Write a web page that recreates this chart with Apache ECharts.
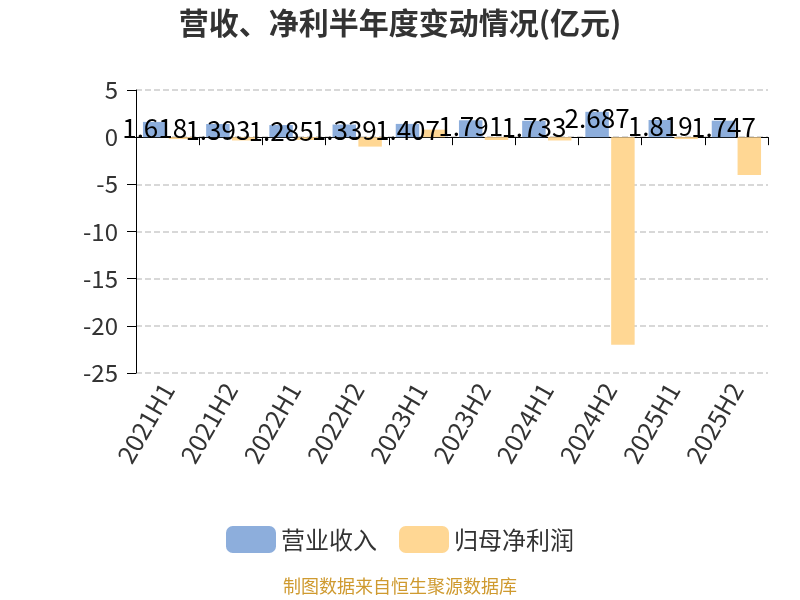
<!DOCTYPE html>
<html><head><meta charset="utf-8">
<script src="https://cdn.jsdelivr.net/npm/echarts@6/dist/echarts.min.js"></script>
<style>html,body{margin:0;padding:0;background:#fff}#c{width:800px;height:600px}</style>
</head><body><div id="c"></div>
<script>
const categories = ['2021H1','2021H2','2022H1','2022H2','2023H1','2023H2','2024H1','2024H2','2025H1','2025H2'];
const revenue = [1.618,1.393,1.285,1.339,1.407,1.791,1.733,2.687,1.819,1.747];
const netProfit = [-0.2,-0.35,-0.3,-1.0,0.8,-0.3,-0.35,-22.0,-0.2,-4.0];
const yTicks = {min:-25, max:5, interval:5};
const font = '"Noto Sans CJK SC", "Noto Sans", sans-serif';
const chart = echarts.init(document.getElementById('c'));
chart.setOption({
  animation:false,
  textStyle:{fontFamily:font},
  title:{text:'营收、净利半年度变动情况(亿元)', left:'center', top:3,
    textStyle:{fontSize:30, fontWeight:'bold', color:'#333', fontFamily:font}},
  legend:{top:521, left:'center', itemWidth:50, itemHeight:27, itemGap:22,
    textStyle:{fontSize:24, color:'#333', fontFamily:font},
    data:['营业收入','归母净利润']},
  graphic:[{type:'text', left:'center', top:577,
    style:{text:'制图数据来自恒生聚源数据库', fill:'#cf9a2f', fontSize:18, fontFamily:font}}],
  grid:{left:136, right:32, top:90, bottom:227},
  xAxis:[
    {type:'category', data:categories, position:'bottom',
     axisLine:{show:false, onZero:false}, axisTick:{show:false},
     axisLabel:{rotate:60, fontSize:25, color:'#333', margin:12, interval:0}},
    {type:'category', data:categories, position:'bottom',
     axisLine:{show:true, onZero:true, onZeroAxisIndex:0, lineStyle:{color:'#000'}},
     axisTick:{show:true, length:8, lineStyle:{color:'#000'}},
     axisLabel:{show:false}}
  ],
  yAxis:{type:'value', min:yTicks.min, max:yTicks.max, interval:yTicks.interval,
    axisLine:{show:true, lineStyle:{color:'#000'}},
    axisTick:{show:true, length:9, lineStyle:{color:'#000'}},
    axisLabel:{fontSize:24, color:'#333', margin:18},
    splitLine:{lineStyle:{type:'dashed', color:'#ccc', width:1.5}}},
  series:[
    {name:'营业收入', type:'bar', data:revenue, xAxisIndex:0, barGap:'10%', barCategoryGap:'22%',
     itemStyle:{color:'#8DAEDC'},
     label:{show:true, position:'insideTop', offset:[0,-12], color:'#000', fontSize:26, fontFamily:font}},
    {name:'归母净利润', type:'bar', data:netProfit, xAxisIndex:0,
     itemStyle:{color:'#FFD794'}}
  ]
});
</script></body></html>
